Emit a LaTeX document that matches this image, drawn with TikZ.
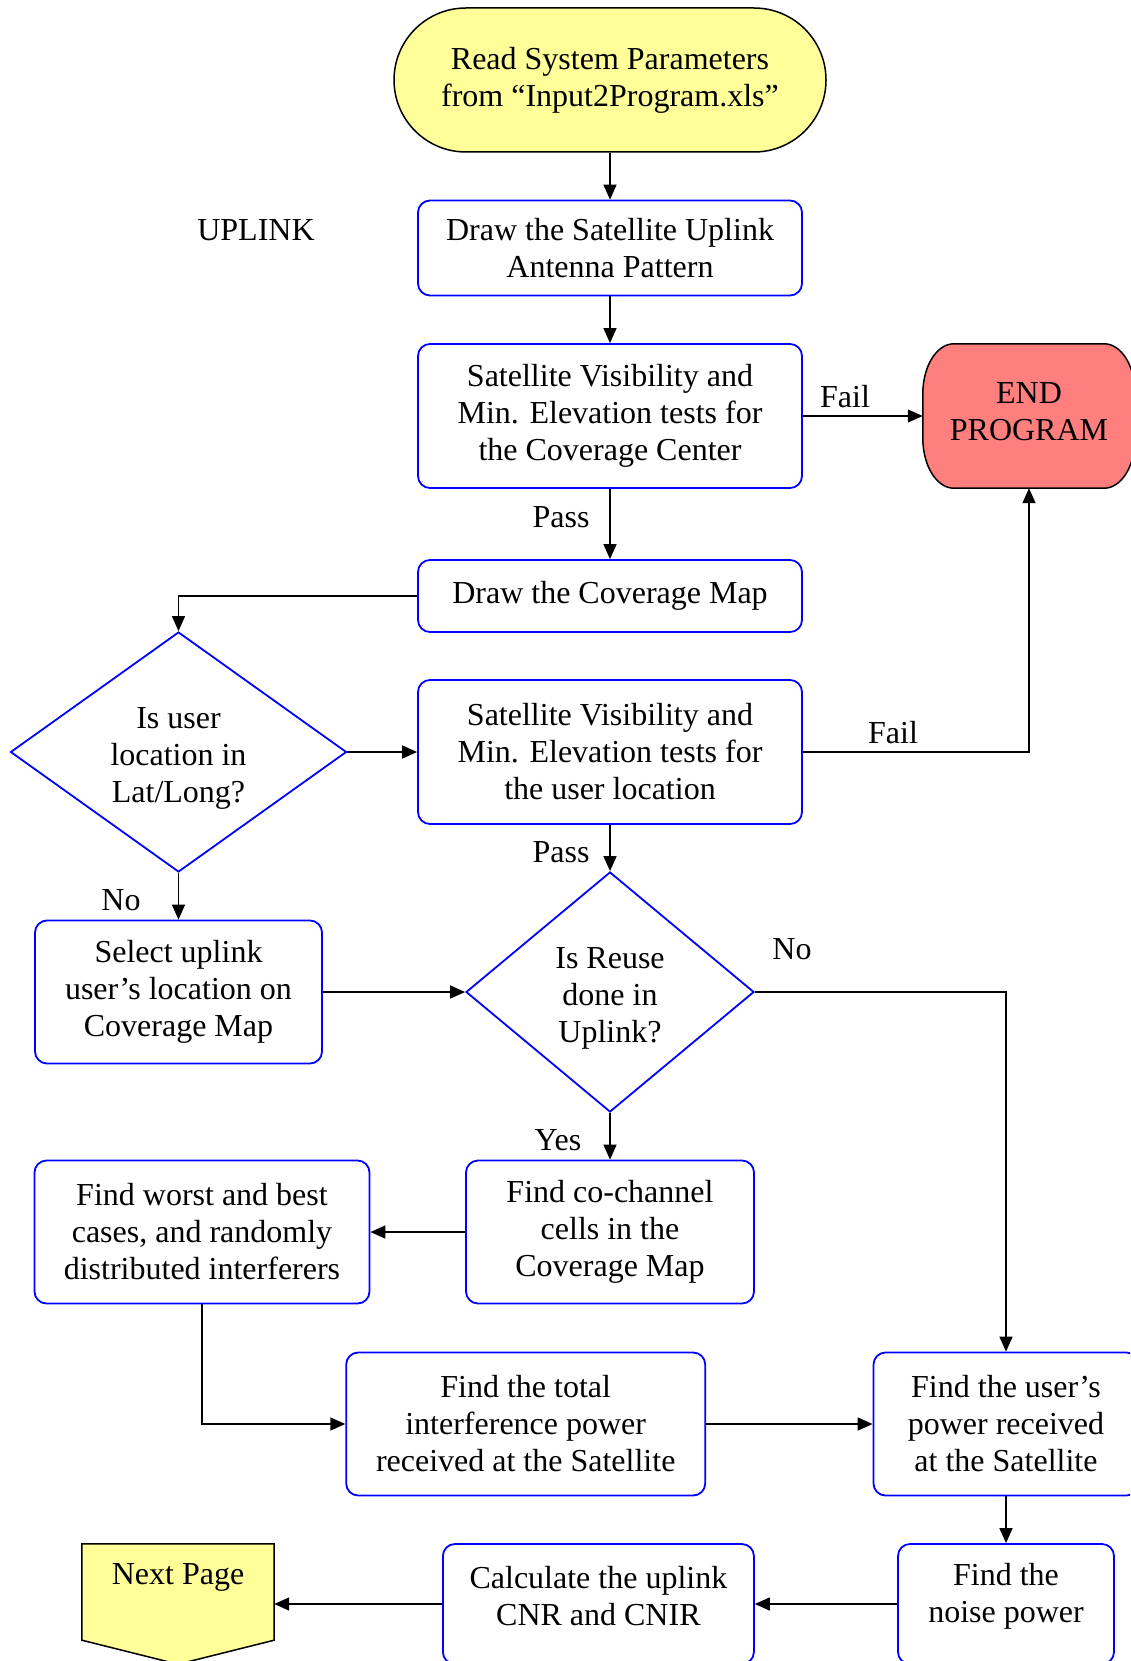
\documentclass[tikz,border=0pt]{standalone}
\usepackage{fontspec}
\setmainfont{Liberation Serif}
\usetikzlibrary{arrows.meta,shapes.geometric,backgrounds}
\definecolor{startyellow}{HTML}{FFFF99}
\definecolor{endred}{HTML}{FF7F7F}
\definecolor{boxblue}{HTML}{0000FF}
\begin{document}
\begin{tikzpicture}[x=1pt,y=-1pt,
  font=\fontsize{32}{37}\selectfont,
  box/.style={draw=boxblue,line width=1.8pt,rounded corners=12pt,align=center,inner sep=0pt,fill=white},
  decision/.style={diamond,draw=boxblue,line width=1.8pt,align=center,inner sep=0pt,fill=white},
  conn/.style={line width=1.5pt,-{Triangle[length=15pt,width=13pt]}},
  lbl/.style={inner sep=0pt}]
\useasboundingbox (0,0) rectangle (1130,1661);
\clip (0,0) rectangle (1130,1661);

% nodes
\node[draw=black,line width=1.5pt,fill=startyellow,rounded corners=72pt,align=center,inner sep=0pt,
      minimum width=432pt,minimum height=144pt] (start) at (610,80) {Read System Parameters\\from “Input2Program.xls”};
\node[lbl] (uplink) at (256,230) {UPLINK};
\node[box,minimum width=384pt,minimum height=95pt] (ant) at (610,248) {Draw the Satellite Uplink\\Antenna Pattern};
\node[box,minimum width=384pt,minimum height=144pt] (vis1) at (610,416) {Satellite Visibility and\\Min. Elevation tests for\\the Coverage Center};
\node[inner sep=0pt,minimum width=212pt,minimum height=144pt,
      label={[align=center,yshift=4pt]center:END\\PROGRAM}] (endp) at (1029,416) {};
\node[box,minimum width=384pt,minimum height=72pt] (map) at (610,596) {Draw the Coverage Map};
\node[decision,minimum width=336pt,minimum height=240pt,
      label={[align=center,yshift=-6pt]center:Is user\\location in\\Lat/Long?}] (d1) at (178.5,752) {};
\node[box,minimum width=384pt,minimum height=144pt] (vis2) at (610,752) {Satellite Visibility and\\Min. Elevation tests for\\the user location};
\node[decision,minimum width=288pt,minimum height=240pt,
      label={[align=center,yshift=-6pt]center:Is Reuse\\done in\\Uplink?}] (d2) at (610,992) {};
\node[box,minimum width=287pt,minimum height=143pt] (sel) at (178.5,992) {Select uplink\\user’s location on\\Coverage Map};
\node[box,minimum width=288pt,minimum height=143pt] (cochan) at (610,1232) {Find co-channel\\cells in the\\Coverage Map};
\node[box,minimum width=335pt,minimum height=143pt] (worst) at (202,1232) {Find worst and best\\cases, and randomly\\distributed interferers};
\node[box,minimum width=359pt,minimum height=143pt] (total) at (525.7,1424) {Find the total\\interference power\\received at the Satellite};
\node[box,minimum width=265pt,minimum height=143pt] (upow) at (1006,1424) {Find the user’s\\power received\\at the Satellite};
\node[box,minimum width=216pt,minimum height=120pt,
      label={[align=center,yshift=8pt]center:Find the\\noise power}] (noise) at (1006,1604) {};
\node[box,minimum width=311pt,minimum height=120pt,
      label={[align=center,yshift=8pt]center:Calculate the uplink\\CNR and CNIR}] (calc) at (598.4,1604) {};
\node[inner sep=0pt,minimum width=192pt,minimum height=120pt,
      label={[yshift=27pt]center:Next Page}] (np) at (178,1604) {};

% custom shapes on background
\begin{scope}[on background layer]
  \draw[line width=1.5pt,fill=endred]
    ([xshift=31pt]endp.north west) -- ([xshift=-31pt]endp.north east)
    arc[start angle=90,end angle=0,x radius=31pt,y radius=50pt]
    -- ([yshift=50pt]endp.south east)
    arc[start angle=0,end angle=-90,x radius=31pt,y radius=50pt]
    -- ([xshift=31pt]endp.south west)
    arc[start angle=270,end angle=180,x radius=31pt,y radius=50pt]
    -- ([yshift=-50pt]endp.north west)
    arc[start angle=180,end angle=90,x radius=31pt,y radius=50pt] -- cycle;
  \draw[line width=1.5pt,fill=startyellow]
    (np.north west) -- (np.north east) -- ([yshift=24pt]np.south east)
    -- (np.south) -- ([yshift=24pt]np.south west) -- cycle;
\end{scope}

% connectors
\draw[conn] (start.south) -- (ant.north);
\draw[conn] (ant.south) -- (vis1.north);
\draw[conn] (vis1.east) -- (endp.west);
\draw[conn] (vis1.south) -- (map.north);
\draw[conn] (map.west) -| (d1.north);
\draw[conn] (d1.east) -- (vis2.west);
\draw[conn] (vis2.east) -| (endp.south);
\draw[conn] (vis2.south) -- (d2.north);
\draw[conn] (d1.south) -- (sel.north);
\draw[conn] (sel.east) -- (d2.west);
\draw[conn] (d2.east) -| (upow.north);
\draw[conn] (d2.south) -- (cochan.north);
\draw[conn] (cochan.west) -- (worst.east);
\draw[conn] (worst.south) |- (total.west);
\draw[conn] (total.east) -- (upow.west);
\draw[conn] (upow.south) -- (noise.north);
\draw[conn] (noise.west) -- (calc.east);
\draw[conn] (calc.west) -- (np.east);

% connector labels
\node[lbl] (fail1) at (845,397) {Fail};
\node[lbl] (pass1) at (561,517) {Pass};
\node[lbl] (fail2) at (893,733) {Fail};
\node[lbl] (pass2) at (561,852) {Pass};
\node[lbl] (no1) at (121,900) {No};
\node[lbl] (no2) at (792,949) {No};
\node[lbl] (yes) at (558,1140) {Yes};
\end{tikzpicture}
\end{document}
